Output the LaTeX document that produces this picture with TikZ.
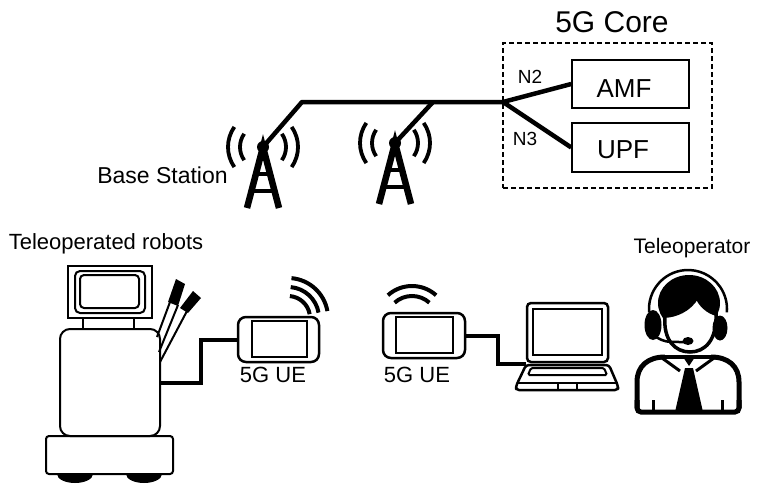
\documentclass[tikz,border=0pt]{standalone}
\usepackage{fontspec}
\setmainfont{Liberation Sans}
\newcommand{\setfs}[1]{\fontsize{#1}{#1}\selectfont}
\begin{document}
\begin{tikzpicture}[x=1pt,y=-1pt,
  box/.style={draw, line width=1.6pt, inner sep=0pt},
  link/.style={line width=4.5pt, line join=round},
  cable/.style={line width=4pt, line join=miter},
  towerleg/.style={line width=6.5pt},
  wave/.style={line width=3.8pt},
  thin/.style={line width=2pt},
  lbl/.style={inner sep=0pt, anchor=base},
]
\useasboundingbox (0,0) rectangle (757,490);

% ---------- 5G core ----------
\node[draw, line width=1.5pt, dash pattern=on 5pt off 3pt, inner sep=0pt,
      minimum width=209pt, minimum height=145pt] (core) at (607.5,115.5) {};
\node[lbl, font=\setfs{30}] (coretitle) at (612,32) {5G Core};
\node[box, minimum width=117pt, minimum height=48pt] (amf) at (630.5,84) {};
\node[lbl, font=\setfs{26}] (amftext) at (624,97) {AMF};
\node[box, minimum width=117pt, minimum height=49pt] (upf) at (630.5,147.5) {};
\node[lbl, font=\setfs{26}] (upftext) at (623,158) {UPF};

% ---------- base stations ----------
\coordinate (t1) at (263,147);
\coordinate (t2) at (395,143);
\foreach \t in {t1,t2}{
  \draw[towerleg] ([shift={(-16,61)}]\t) -- (\t) -- ([shift={(16,61)}]\t);
  \draw[line width=4.5pt] ([shift={(-7,27)}]\t) -- ([shift={(7,27)}]\t);
  \draw[line width=4.5pt] ([shift={(-11.5,44)}]\t) -- ([shift={(11.5,44)}]\t);
  \fill (\t) circle (6);
  \foreach \r in {23,35}{
    \draw[wave] ([shift={(145:\r)}]\t) arc[start angle=145, end angle=215, radius=\r];
    \draw[wave] ([shift={(-35:\r)}]\t) arc[start angle=-35, end angle=35, radius=\r];
  }
}
\node[lbl, font=\setfs{23}] (bslabel) at (162.5,183) {Base Station};

% ---------- backhaul ----------
\coordinate (b1) at (302,102);
\coordinate (b2) at (433,102);
\coordinate (junc) at (503,102);
\draw[link] (t1) -- (b1) -- (junc);
\draw[link] (t2) -- (b2);
\draw[link] (junc) -- (amf.west);
\draw[link] (junc) -- (upf.west);
\node[lbl, font=\setfs{19}] (n2) at (530,83) {N2};
\node[lbl, font=\setfs{19}] (n3) at (525,145) {N3};

% ---------- robot ----------
\node[lbl, font=\setfs{22}] (robotlabel) at (106,249) {Teleoperated robots};
\fill (75,474) ellipse (18 and 9);
\fill (144,474) ellipse (18 and 9);
\node[draw, fill=white, line width=2pt, rounded corners=3pt, inner sep=0pt,
      minimum width=127pt, minimum height=38pt] (base) at (109.5,455) {};
\node[draw, fill=white, line width=2pt, rounded corners=10pt, inner sep=0pt,
      minimum width=100pt, minimum height=107pt] (body) at (110,382.5) {};
\node[draw, line width=2pt, inner sep=0pt,
      minimum width=84pt, minimum height=52pt] (monitor) at (110,292) {};
\node[draw, line width=2pt, rounded corners=5pt, inner sep=0pt,
      minimum width=70pt, minimum height=42pt] (bezel) at (110,292) {};
\node[draw, line width=2pt, rounded corners=4pt, inner sep=0pt,
      minimum width=59pt, minimum height=33pt] (display) at (109.5,291.5) {};
\draw[thin] (monitor.south -| 83,0) -- (body.north -| 83,0);
\draw[thin] (monitor.south -| 134,0) -- (body.north -| 134,0);
% arms and grippers
\draw[thin] (157,337) -- (170,302);
\draw[thin] (159,352) -- (178,305);
\draw[thin] (160,362) -- (187,311);
\fill (168,302) -- (176,279) -- (185,284) -- (178,306) -- cycle;
\fill (180,308) -- (193,291) -- (201,298) -- (188,313) -- cycle;

% ---------- user equipment ----------
\node[draw, line width=2.5pt, rounded corners=8pt, inner sep=0pt,
      minimum width=81pt, minimum height=45pt] (ue1) at (278.5,339.5) {};
\node[draw, line width=2pt, inner sep=0pt,
      minimum width=55pt, minimum height=36pt] (ue1scr) at (279.5,339) {};
\node[lbl, font=\setfs{22}] (ue1label) at (273,382) {5G UE};
\foreach \r in {22,31,40}
  \draw[line width=4pt] ([shift={(-85:\r)}]288,318) arc[start angle=-85, end angle=-10, radius=\r];

\node[draw, line width=2.5pt, rounded corners=8pt, inner sep=0pt,
      minimum width=82pt, minimum height=45pt] (ue2) at (424,335.5) {};
\node[draw, line width=2pt, inner sep=0pt,
      minimum width=57pt, minimum height=36pt] (ue2scr) at (424.5,335) {};
\node[lbl, font=\setfs{22}] (ue2label) at (417,382) {5G UE};
\foreach \r in {26,36}
  \draw[line width=4pt] ([shift={(-132:\r)}]412,322) arc[start angle=-132, end angle=-48, radius=\r];

\draw[cable] (body.east) -- ++(40,0) |- (ue1.west);

% ---------- laptop ----------
\node[draw, line width=2.5pt, rounded corners=4pt, inner sep=0pt,
      minimum width=81pt, minimum height=59pt] (lap) at (567.5,332.5) {};
\node[draw, line width=2pt, inner sep=0pt,
      minimum width=69pt, minimum height=46pt] (lapscr) at (567.5,332) {};
\draw[line width=2.5pt, line join=round, rounded corners=3pt]
  (526,365) -- (609,365) -- (618,386) -- (618,390) -- (516,390) -- (516,386) -- cycle;
\draw[thin, rounded corners=1.5pt] (531,368) -- (604,368) -- (607,375) -- (528,375) -- cycle;
\draw[thin] (517,383) -- (617,383);
\draw[thin] (558,383) -- (558,390);
\draw[thin] (577,383) -- (577,390);
\coordinate (lapin) at (526,364);
\draw[cable] (ue2.east) -- ++(32,0) |- (lapin);

% ---------- teleoperator ----------
\node[lbl, font=\setfs{21}] (oplabel) at (692,253) {Teleoperator};
% headband
\draw[line width=2.5pt] ([shift={(175:39)}]688,309) arc[start angle=175, end angle=365, radius=39];
% hair
\fill (689,303) ellipse (31 and 28);
% face
\draw[line width=3.5pt, fill=white]
  (665,316) .. controls (663,340) and (675,352) .. (690,352)
  .. controls (705,352) and (717,340) .. (716,314)
  .. controls (708,312) and (700,305) .. (697,297)
  .. controls (690,310) and (675,316) .. (665,316) -- cycle;
% ear cups
\fill (653,325) ellipse (8.5 and 15);
\fill (720,328) ellipse (7.5 and 12.5);
% microphone
\draw[line width=2.5pt] (656,337) .. controls (665,342) .. (684,342);
\fill (688,341) ellipse (5.5 and 4);
% torso
\draw[line width=5pt, line join=round]
  (665,357) .. controls (648,357) and (637,366) .. (637,382) -- (637,408);
\draw[line width=5pt, line join=round]
  (711,357) .. controls (728,357) and (739,366) .. (739,382) -- (739,408);
\draw[line width=5pt, rounded corners=4pt] (637,400) -- (637,412) -- (739,412) -- (739,400);
\draw[line width=3.5pt] (662,357) -- (714,357);
% collar
\draw[line width=3pt] (662,358) -- (680,371);
\draw[line width=3pt] (714,358) -- (696,371);
% tie
\fill (683,357) -- (695,357) -- (689,366) -- cycle;
\fill (685,368) -- (693,368) -- (703,412) -- (675,412) -- cycle;
% arm creases
\draw[line width=3pt] (653,400) -- (653,412);
\draw[line width=3pt] (722,400) -- (722,412);
\end{tikzpicture}
\end{document}
